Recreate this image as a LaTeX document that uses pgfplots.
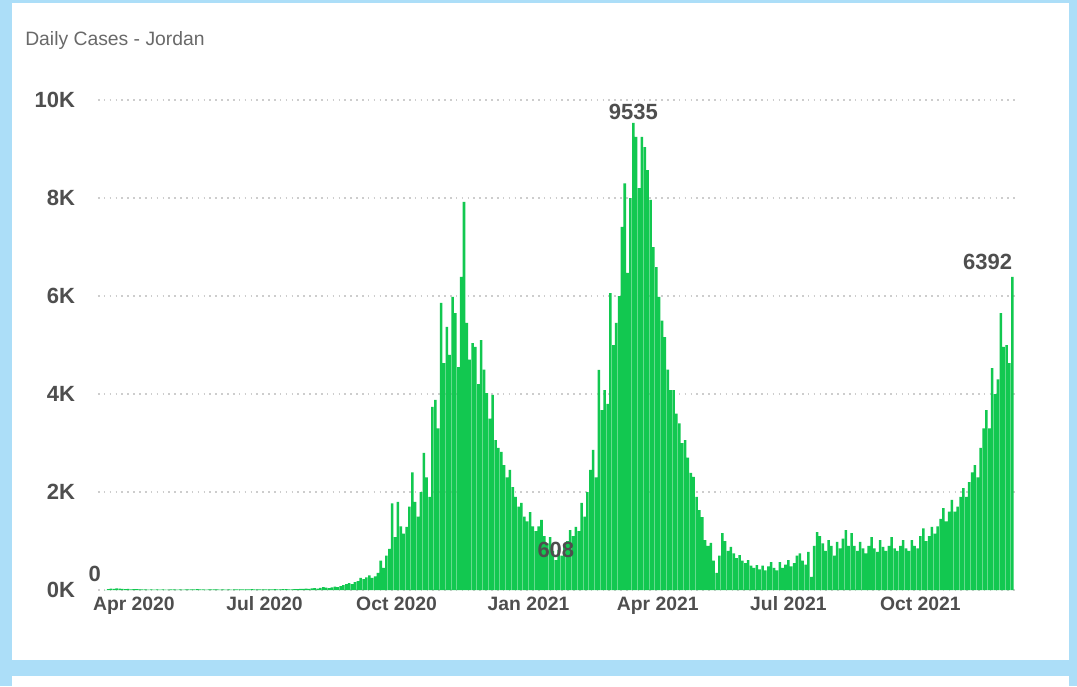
\documentclass[border=0pt]{standalone}
\usepackage{pgfplots}
\pgfplotsset{compat=1.18}
\usepackage{fontspec}
\setmainfont{Liberation Sans}
\definecolor{frameblue}{RGB}{172,222,248}
\definecolor{bargreen}{RGB}{18,200,80}
\definecolor{labgray}{RGB}{78,78,78}
\definecolor{titlegray}{RGB}{105,105,105}
\definecolor{gridgray}{RGB}{205,205,205}
\begin{document}
\begin{tikzpicture}
\begin{scope}[x=0.75pt,y=-0.75pt]
\fill[frameblue] (0,0) rectangle (1077,686);
\fill[white] (12,3) rectangle (1069,660);
\fill[white] (12,676) rectangle (1069,686);
\node[anchor=base west, inner sep=0pt, text=titlegray, font=\fontsize{14.5}{16}\selectfont] at (25,45) {Daily Cases - Jordan};
\end{scope}
\begin{axis}[
  at={(73.5pt,-442.5pt)}, anchor=south west,
  scale only axis, width=690pt, height=367.5pt,
  xmin=-25, xmax=616, ymin=0, ymax=10000,
  scaled y ticks=false,
  clip=false,
  axis line style={draw=none},
  major tick length=0pt,
  tick style={draw=none},
  ymajorgrids,
  grid style={gridgray, line width=1.1pt, dash pattern=on 1.2pt off 3.2pt},
  ytick={0,2000,4000,6000,8000,10000},
  yticklabels={0K,2K,4K,6K,8K,10K},
  xtick={0,91,183,275,365,456,548},
  xticklabels={Apr 2020,Jul 2020,Oct 2020,Jan 2021,Apr 2021,Jul 2021,Oct 2021},
  yticklabel style={inner sep=0pt, anchor=east, xshift=-17pt, text=labgray, font=\bfseries\fontsize{16.5}{18}\selectfont},
  xticklabel style={inner sep=0pt, anchor=base, yshift=-15.5pt, text=labgray, font=\bfseries\fontsize{14.5}{16}\selectfont},
]
\addplot[ybar, bar width=1.75, fill=bargreen, draw=none] coordinates {
(-20,0)(-18,20)(-16,30)(-14,25)(-12,35)(-10,30)(-8,25)(-6,20)(-4,25)(-2,15)(0,20)(2,18)(4,15)(6,12)(8,14)(10,10)(12,12)(14,10)(16,12)(18,10)(20,11)(22,10)(24,10)(26,11)(28,12)(30,10)(32,11)(34,10)(36,12)(38,15)(40,12)(42,14)(44,16)(46,12)(48,11)(50,10)(52,12)(54,14)(56,11)(58,12)(60,10)(62,12)(64,10)(66,11)(68,10)(70,12)(72,12)(74,14)(76,11)(78,12)(80,15)(82,16)(84,14)(86,12)(88,12)(90,11)(92,14)(94,15)(96,12)(98,16)(100,14)(102,15)(104,18)(106,16)(108,15)(110,14)(112,16)(114,18)(116,22)(118,25)(120,30)(122,22)(124,35)(126,40)(128,30)(130,45)(132,60)(134,50)(136,40)(138,55)(140,70)(142,60)(144,80)(146,100)(148,120)(150,140)(152,120)(154,160)
(156,180)(158,250)(160,220)(162,260)(164,300)(166,250)(168,280)(170,350)
(172,600)(174,450)(176,700)(178,840)(180,1770)(182,1080)(184,1800)(186,1300)(188,1150)(190,1290)(192,1700)(194,2400)(196,1800)(198,1500)(200,2000)(202,2800)(204,2300)(206,1900)(208,3740)(210,3880)(212,3300)(214,5860)(216,4630)(218,5370)(220,4800)(222,5980)(224,5650)(226,4550)(228,6390)(230,7920)(232,5450)(234,4700)(236,5040)(238,4960)(240,4200)(242,5100)(244,4500)(246,4020)(248,3500)(250,3980)(252,3060)(254,2900)(256,2820)(258,2550)(260,2300)(262,2450)(264,2100)(266,1900)(268,1700)(270,1780)(272,1500)(274,1400)(276,1590)(278,1300)(280,1200)(282,1300)(284,1430)(286,1100)(288,950)(290,1080)(292,800)(294,608)(296,820)(298,700)(300,900)(302,1000)(304,1220)(306,1100)(308,1290)(310,1200)(312,1780)(314,1500)(316,2000)(318,2450)(320,2860)(322,2300)(324,4490)(326,3670)(328,4080)(330,3800)(332,6060)(334,5000)(336,5450)(338,6000)(340,7410)(342,8300)(344,6470)(346,8000)(348,9535)(350,9250)(352,8200)(354,9250)(356,9040)(358,8570)(360,7960)(362,7000)(364,6590)(366,5980)(368,5500)(370,5160)(372,4500)(374,4080)(376,4080)(378,3600)(380,3400)(382,3000)(384,3060)(386,2700)(388,2390)(390,2310)(392,1900)(394,1630)(396,1490)(398,1020)(400,900)(402,960)(404,600)(406,350)(408,700)(410,1160)(412,1000)(414,800)(416,880)(418,750)(420,650)(422,710)(424,600)(426,550)(428,610)(430,500)(432,450)(434,510)(436,420)(438,500)(440,400)(442,480)(444,570)(446,450)(448,400)(450,570)(452,450)(454,520)(456,610)(458,480)(460,550)(462,700)(464,750)(466,600)(468,520)(470,780)(472,270)(474,900)(476,1180)(478,1100)(480,950)(482,800)(484,1020)(486,900)(488,700)(490,980)(492,850)(494,1050)(496,1220)(498,900)
(500,1160)(502,900)(504,800)(506,980)(508,850)(510,750)(512,900)(514,1080)(516,850)(518,780)(520,1020)(522,880)(524,800)(526,900)(528,1080)(530,850)(532,800)(534,900)(536,1020)(538,850)(540,800)(542,1020)(544,900)(546,850)(548,1100)(550,1260)(552,1000)(554,1100)(556,1290)(558,1150)(560,1300)(562,1450)(564,1670)(566,1400)(568,1600)(570,1840)(572,1600)(574,1700)(576,1900)(578,2080)(580,1900)(582,2200)(584,2400)(586,2550)(588,2300)(590,2900)(592,3300)(594,3670)(596,3300)(598,4530)(600,4000)(602,4300)(604,5650)(606,4960)(608,5000)(610,4630)(612,6392)
};
\node[anchor=south, inner sep=2pt, text=labgray, font=\bfseries\fontsize{16.5}{18}\selectfont] at (axis cs:348,9535) {9535};
\node[anchor=south, inner sep=2pt, text=labgray, font=\bfseries\fontsize{16.5}{18}\selectfont] at (axis cs:294,608) {608};
\node[anchor=south east, inner sep=2pt, xshift=2pt, yshift=3pt, text=labgray, font=\bfseries\fontsize{16.5}{18}\selectfont] at (axis cs:612,6392) {6392};
\node[anchor=south east, inner sep=2pt, xshift=-1pt, yshift=4pt, text=labgray, font=\bfseries\fontsize{16.5}{18}\selectfont] at (axis cs:-20,0) {0};
\end{axis}
\end{tikzpicture}
\end{document}
